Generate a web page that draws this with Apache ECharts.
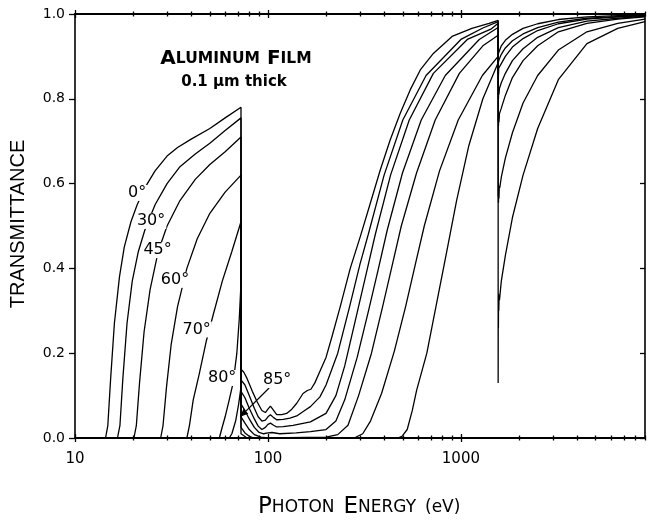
<!DOCTYPE html>
<html>
<head>
<meta charset="utf-8">
<script src="https://cdn.jsdelivr.net/npm/echarts@6/dist/echarts.min.js"></script>
<style>
html,body{margin:0;padding:0;background:#fff;}
#c{width:647px;height:523px;}
</style>
</head>
<body>
<div id="c"></div>
<script>
// ---- data: photon energy (eV), transmittance ----
const angleNames = ['0°','30°','45°','60°','70°','80°','85°'];

const curve0 = [[10,0],[14.4,0],[14.8,0.03],[15.3,0.14],[16,0.27],[17,0.38],[18,0.45],[19.5,0.51],[21,0.55],[23,0.59],[26,0.63],[30,0.665],[34,0.685],[40,0.705],[50,0.73],[60,0.755],[72.5,0.78],
[72.5,0.162],[75,0.155],[78,0.14],[83,0.11],[88,0.085],[93,0.065],[97,0.06],[100,0.068],[103,0.075],[107,0.065],[111,0.055],[118,0.055],[125,0.058],[133,0.068],[141,0.082],[152,0.105],[160,0.112],[167,0.115],[175,0.13],[187,0.16],[200,0.19],[215,0.24],[237,0.31],[267,0.4],[301,0.475],[339,0.553],[382,0.632],[430,0.703],[485,0.766],[546,0.821],[616,0.868],[720,0.907],[900,0.947],[1140,0.966],[1400,0.978],[1560,0.985],
[1560,0.905],[1580,0.912],[1620,0.925],[1700,0.938],[1850,0.952],[2100,0.966],[2500,0.977],[3200,0.987],[4500,0.993],[6500,0.996],[9000,0.998]];

const curve30 = [[10,0],[16.6,0],[17.1,0.03],[17.7,0.14],[18.6,0.27],[19.8,0.37],[21.3,0.44],[23,0.49],[26,0.55],[30,0.6],[35,0.64],[42,0.67],[50,0.695],[60,0.725],[72.5,0.755],
[72.5,0.137],[76,0.125],[80,0.1],[85,0.07],[89,0.05],[93,0.04],[97,0.042],[100,0.05],[103,0.055],[107,0.048],[111,0.043],[120,0.044],[130,0.047],[141,0.052],[155,0.065],[166,0.074],[186,0.097],[200,0.125],[230,0.2],[265,0.31],[300,0.41],[331,0.48],[400,0.62],[500,0.75],[660,0.855],[1000,0.94],[1300,0.967],[1560,0.982],
[1560,0.885],[1580,0.893],[1620,0.905],[1700,0.92],[1850,0.937],[2100,0.953],[2500,0.968],[3200,0.981],[4500,0.99],[6500,0.994],[9000,0.997]];

const curve45 = [[10,0],[20.2,0],[20.8,0.03],[21.6,0.13],[22.8,0.25],[24.5,0.35],[27,0.44],[30,0.5],[35,0.56],[42,0.61],[50,0.645],[60,0.675],[72.5,0.71],
[72.5,0.11],[76,0.095],[80,0.07],[85,0.045],[89,0.028],[93,0.02],[97,0.025],[100,0.032],[103,0.035],[107,0.03],[111,0.026],[120,0.027],[135,0.03],[166,0.038],[200,0.058],[225,0.1],[250,0.17],[288,0.29],[324,0.39],[360,0.48],[432,0.62],[540,0.75],[720,0.86],[1080,0.94],[1440,0.965],[1560,0.978],
[1560,0.86],[1563,0.875],[1566,0.855],[1570,0.872],[1580,0.87],[1620,0.883],[1700,0.9],[1850,0.922],[2100,0.942],[2500,0.961],[3200,0.977],[4500,0.988],[6500,0.993],[9000,0.996]];

const curve60 = [[10,0],[27.8,0],[28.6,0.03],[29.8,0.12],[31.5,0.22],[34,0.31],[38,0.4],[43,0.47],[50,0.53],[60,0.58],[72.5,0.62],
[72.5,0.08],[76,0.065],[80,0.045],[85,0.025],[90,0.013],[95,0.01],[100,0.012],[105,0.013],[115,0.01],[140,0.012],[166,0.015],[200,0.02],[225,0.04],[250,0.09],[290,0.19],[332,0.3],[374,0.4],[415,0.49],[498,0.625],[623,0.75],[830,0.855],[1245,0.94],[1560,0.968],
[1560,0.81],[1563,0.83],[1566,0.8],[1570,0.825],[1575,0.81],[1585,0.825],[1620,0.838],[1700,0.86],[1850,0.89],[2100,0.918],[2500,0.945],[3200,0.968],[4500,0.983],[6500,0.99],[9000,0.995]];

const curve70 = [[10,0],[38,0],[39.2,0.03],[41,0.09],[44,0.15],[48,0.23],[52,0.29],[58,0.37],[65,0.44],[72.5,0.51],
[72.5,0.05],[76,0.035],[80,0.02],[85,0.008],[92,0.002],[100,0],[200,0.002],[230,0.008],[260,0.03],[295,0.1],[344,0.2],[393,0.31],[442,0.41],[491,0.5],[589,0.625],[736,0.75],[982,0.86],[1300,0.925],[1560,0.95],
[1560,0.745],[1563,0.77],[1566,0.735],[1570,0.765],[1575,0.745],[1585,0.765],[1620,0.778],[1700,0.808],[1850,0.85],[2100,0.89],[2500,0.925],[3200,0.958],[4500,0.978],[6500,0.988],[9000,0.993]];

const curve80 = [[10,0],[56,0],[57.5,0.02],[60,0.05],[63,0.09],[66,0.13],[69,0.2],[71,0.28],[72.5,0.365],
[72.5,0.025],[76,0.012],[80,0.004],[85,0],[280,0],[310,0.01],[340,0.04],[388,0.105],[452,0.205],[517,0.31],[581,0.41],[646,0.5],[775,0.63],[969,0.75],[1292,0.855],[1560,0.9],
[1560,0.57],[1563,0.6],[1566,0.555],[1570,0.595],[1575,0.565],[1582,0.595],[1590,0.59],[1620,0.615],[1700,0.66],[1850,0.72],[2100,0.79],[2500,0.855],[3200,0.915],[4500,0.958],[6500,0.978],[9000,0.988]];

const curve85 = [[10,0],[63,0],[65,0.01],[68,0.04],[70.5,0.08],[72.5,0.12],
[72.5,0.01],[78,0],[470,0],[495,0.004],[527,0.02],[560,0.065],[590,0.113],[630,0.16],[666,0.2],[750,0.32],[845,0.44],[950,0.56],[1100,0.69],[1300,0.8],[1560,0.885],
[1560,0.13],[1562,0.3],[1565,0.26],[1568,0.34],[1572,0.3],[1577,0.335],[1585,0.325],[1620,0.37],[1700,0.43],[1850,0.52],[2100,0.62],[2500,0.73],[3200,0.845],[4500,0.93],[6500,0.966],[9000,0.982]];

const curves = [curve0, curve30, curve45, curve60, curve70, curve80, curve85];

// axis ticks
const xMajorTicks = [10, 100, 1000];
const xMinorTicks = [20,30,40,50,60,70,80,90,200,300,400,500,600,700,800,900,2000,3000,4000,5000,6000,7000,8000,9000];

// angle label anchors (energy, transmittance)
const labelAnchors = [[21.0,0.578],[24.8,0.512],[26.8,0.443],[33.0,0.373],[42.7,0.256],[57.9,0.1415],[111.6,0.137]];
const arrow85 = [[101.4,0.118],[71.8,0.05]];

const X_MIN = 10, X_MAX = 9000;

const chart = echarts.init(document.getElementById('c'), null, {renderer:'canvas'});
const FONT = '"Liberation Sans", Arial, Helvetica, sans-serif';
const WFONT = '"DejaVu Sans", "Liberation Sans", Arial, sans-serif';

function xAxisCfg(pos, inside, len, ticks, labels) {
  return {
    type: 'log', logBase: 10, min: X_MIN, max: X_MAX, position: pos,
    axisLine: {show: true, lineStyle: {color: '#000', width: 1.6}},
    axisTick: {show: true, inside: inside, length: len, customValues: ticks, lineStyle: {color: '#000', width: 1.3}},
    axisLabel: {show: labels, customValues: xMajorTicks, margin: 14, color: '#000', fontSize: 15, fontFamily: WFONT,
      formatter: v => String(Math.round(v))},
    splitLine: {show: false}, minorTick: {show: false}
  };
}

const option = {
  animation: false,
  backgroundColor: '#fff',
  grid: {left: 75, right: 2, top: 14, bottom: 85, containLabel: false},
  xAxis: [
    xAxisCfg('bottom', false, 4, xMajorTicks, true),
    xAxisCfg('bottom', true, 4, xMajorTicks, false),
    xAxisCfg('bottom', false, 2.5, xMinorTicks, false),
    xAxisCfg('bottom', true, 2.5, xMinorTicks, false),
    xAxisCfg('top', false, 4, xMajorTicks, false),
    xAxisCfg('top', true, 4, xMajorTicks, false),
    xAxisCfg('top', false, 2.5, xMinorTicks, false),
    xAxisCfg('top', true, 2.5, xMinorTicks, false)
  ],
  yAxis: [
    {type: 'value', min: 0, max: 1, interval: 0.2, position: 'left',
     axisLine: {show: true, lineStyle: {color: '#000', width: 1.6}},
     axisTick: {show: true, inside: false, length: 6, lineStyle: {color: '#000', width: 1.3}},
     axisLabel: {margin: 10, color: '#000', fontSize: 14, fontFamily: WFONT, formatter: v => v.toFixed(1)},
     splitLine: {show: false}},
    {type: 'value', min: 0, max: 1, interval: 0.2, position: 'right',
     axisLine: {show: true, lineStyle: {color: '#000', width: 1.6}},
     axisTick: {show: true, inside: true, length: 5, lineStyle: {color: '#000', width: 1.3}},
     axisLabel: {show: false}, splitLine: {show: false}}
  ],
  series: curves.map((c, i) => ({
    type: 'line', name: angleNames[i], data: c, xAxisIndex: 0, yAxisIndex: 0,
    showSymbol: false, symbol: 'none', smooth: false,
    lineStyle: {color: '#000', width: 1.3}, z: 3
  }))
};
chart.setOption(option);

// annotations anchored in data coordinates
const px = p => chart.convertToPixel({xAxisIndex: 0, yAxisIndex: 0}, p);
const graphics = [];
labelAnchors.forEach((a, i) => {
  const p = px(a);
  graphics.push({type: 'text', x: p[0], y: p[1], z: 10,
    style: {text: angleNames[i], fill: '#000', font: '16px ' + WFONT, align: 'center', verticalAlign: 'middle',
      backgroundColor: '#fff', padding: [0, 1]}});
});
const a0 = px(arrow85[0]), a1 = px(arrow85[1]);
graphics.push({type: 'line', z: 9, shape: {x1: a0[0], y1: a0[1], x2: a1[0], y2: a1[1]}, style: {stroke: '#000', lineWidth: 1.2}});
(function(){
  const dx = a1[0]-a0[0], dy = a1[1]-a0[1], L = Math.hypot(dx,dy), ux = dx/L, uy = dy/L;
  const hl = 8, hw = 3.5;
  const bx = a1[0]-ux*hl, by = a1[1]-uy*hl;
  graphics.push({type:'polygon', z: 9, shape:{points:[[a1[0],a1[1]],[bx-uy*hw,by+ux*hw],[bx+uy*hw,by-ux*hw]]}, style:{fill:'#000'}});
})();
graphics.push({type: 'text', x: 236, y: 59, z: 10,
  style: {rich: {b: {font: 'bold 20px ' + WFONT, fill: '#000'}, s: {font: 'bold 15.5px ' + WFONT, fill: '#000'}, g: {width: 7}},
    text: '{b|A}{s|LUMINUM}{g| }{b|F}{s|ILM}', align: 'center', verticalAlign: 'middle'}});
graphics.push({type: 'text', x: 234, y: 82, z: 10,
  style: {text: '0.1 μm thick', font: 'bold 15px ' + WFONT, fill: '#000', align: 'center', verticalAlign: 'middle'}});
graphics.push({type: 'text', left: 258, top: 496, z: 10,
  style: {rich: {b: {font: '23px ' + WFONT, fill: '#000'}, s: {font: '17px ' + WFONT, fill: '#000'}, g: {width: 9}},
    text: '{b|P}{s|HOTON}{g| }{b|E}{s|NERGY}{g| }{s|(eV)}'}});
graphics.push({type: 'text', x: 18, y: 224, rotation: Math.PI/2, z: 10,
  style: {text: 'TRANSMITTANCE', font: '20px ' + FONT, fill: '#000', align: 'center', verticalAlign: 'middle'}});
chart.setOption({graphic: graphics});
</script>
</body>
</html>
